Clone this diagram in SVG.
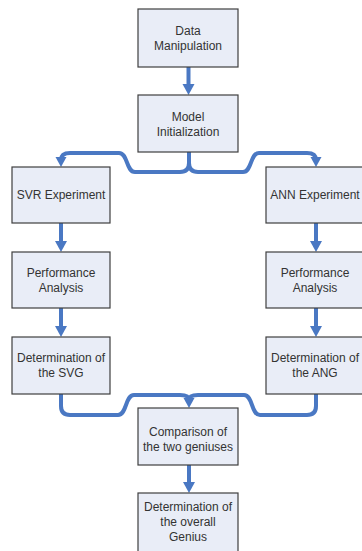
<svg xmlns="http://www.w3.org/2000/svg" width="362" height="551" viewBox="0 0 362 551">
<style>
.box{fill:#e9edf7;stroke:#3f3f3f;stroke-width:1.2}
.t{font-family:"Liberation Sans",Arial,sans-serif;font-size:12px;fill:#333;text-anchor:middle}
.ln{fill:none;stroke:#4a78c3;stroke-width:4;stroke-linecap:butt}
.hd{fill:#4a78c3}
</style>
<rect width="362" height="551" fill="#fff"/>
<g id="connectors">
<path class="ln" d="M188.5 67 V85"/><polygon class="hd" points="182.5,84 194.5,84 188.5,95"/>
<path class="ln" d="M189 152 V163 Q189 172 180 172 H135 C126 172 128 153 119 153 H70 Q61 153 61 160"/>
<path class="ln" d="M189 163 Q189 172 198 172 H243 C252 172 250 153 259 153 H307 Q316 153 316 160"/>
<polygon class="hd" points="55.5,157 66.5,157 61,167"/>
<polygon class="hd" points="310.5,157 321.5,157 316,167"/>
<path class="ln" d="M61 223 V242"/><polygon class="hd" points="55,241 67,241 61,252"/>
<path class="ln" d="M61 308 V327"/><polygon class="hd" points="55,326 67,326 61,337"/>
<path class="ln" d="M316 223 V242"/><polygon class="hd" points="310,241 322,241 316,252"/>
<path class="ln" d="M316 308 V327"/><polygon class="hd" points="310,326 322,326 316,337"/>
<path class="ln" d="M61 394 V406 Q61 415 70 415 H118 C127 415 125 395 134 395 H180 Q189 395 189 400"/>
<path class="ln" d="M316 394 V406 Q316 415 307 415 H260 C251 415 253 395 244 395 H198 Q189 395 189 400"/>
<polygon class="hd" points="183.5,398 194.5,398 189,408"/>
<path class="ln" d="M189 465 V483"/><polygon class="hd" points="183,482 195,482 189,493"/>
</g>
<g id="data"><rect class="box" x="138" y="9" width="100" height="58"/><text class="t" x="188" y="35">Data</text><text class="t" x="188" y="50">Manipulation</text></g>
<g id="model"><rect class="box" x="138" y="95" width="100" height="57"/><text class="t" x="188" y="121">Model</text><text class="t" x="188" y="136">Initialization</text></g>
<g id="svr"><rect class="box" x="12" y="167" width="98" height="56"/><text class="t" x="61" y="199">SVR Experiment</text></g>
<g id="ann"><rect class="box" x="266" y="167" width="99" height="56"/><text class="t" x="315" y="199">ANN Experiment</text></g>
<g id="perf-left"><rect class="box" x="12" y="252" width="98" height="56"/><text class="t" x="61" y="277">Performance</text><text class="t" x="61" y="292">Analysis</text></g>
<g id="perf-right"><rect class="box" x="266" y="252" width="99" height="56"/><text class="t" x="315" y="277">Performance</text><text class="t" x="315" y="292">Analysis</text></g>
<g id="det-svg"><rect class="box" x="12" y="337" width="98" height="57"/><text class="t" x="61" y="362">Determination of</text><text class="t" x="61" y="377">the SVG</text></g>
<g id="det-ang"><rect class="box" x="266" y="337" width="99" height="57"/><text class="t" x="315" y="362">Determination of</text><text class="t" x="315" y="377">the ANG</text></g>
<g id="comparison"><rect class="box" x="138" y="408" width="100" height="57"/><text class="t" x="188" y="436">Comparison of</text><text class="t" x="188" y="451">the two geniuses</text></g>
<g id="overall"><rect class="box" x="138" y="493" width="100" height="60"/><text class="t" x="188" y="511">Determination of</text><text class="t" x="188" y="526">the overall</text><text class="t" x="188" y="541">Genius</text></g>
</svg>
